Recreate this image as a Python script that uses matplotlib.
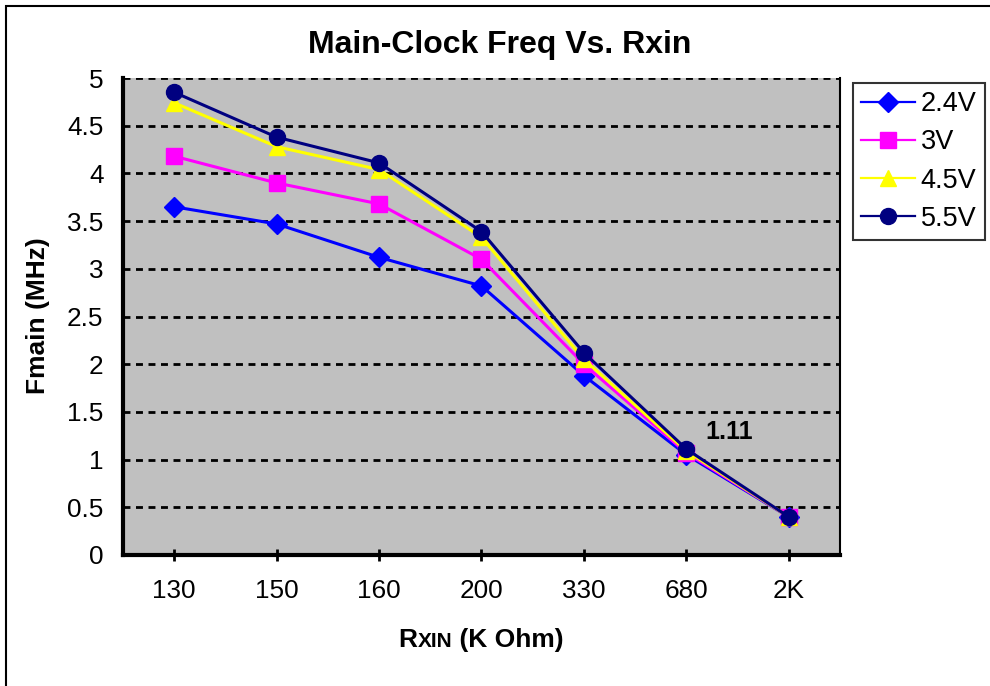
import matplotlib
matplotlib.use('Agg')
import matplotlib.pyplot as plt
from matplotlib.patches import Rectangle
from matplotlib.offsetbox import TextArea, HPacker, AnchoredOffsetbox

plt.rcParams['font.family'] = ['Liberation Sans', 'DejaVu Sans']

categories = ['130', '150', '160', '200', '330', '680', '2K']
v24 = [3.65, 3.47, 3.12, 2.82, 1.88, 1.05, 0.40]
v30 = [4.18, 3.90, 3.68, 3.10, 2.00, 1.07, 0.40]
v45 = [4.74, 4.28, 4.04, 3.33, 2.05, 1.09, 0.40]
v55 = [4.85, 4.38, 4.11, 3.39, 2.12, 1.11, 0.40]
series = [('2.4V', v24, '#0000FF', 'D', 10),
          ('3V', v30, '#FF00FF', 's', 11),
          ('4.5V', v45, '#FFFF00', '^', 11),
          ('5.5V', v55, '#000080', 'o', 11.5)]
yticks = [0, 0.5, 1, 1.5, 2, 2.5, 3, 3.5, 4, 4.5, 5]

fig = plt.figure(figsize=(9.9, 6.86), dpi=100)
ax = fig.add_axes([123 / 990, 1 - 555 / 686, 717 / 990, 477 / 686])
ax.set_facecolor('#C0C0C0')

x = list(range(len(categories)))
for name, vals, col, mk, ms in series:
    ax.plot(x, vals, color=col, lw=2.2, marker=mk, markersize=ms,
            markerfacecolor=col, markeredgecolor=col, label=name, zorder=3)

for yv in yticks[1:]:
    ax.axhline(yv, color='black', lw=2, linestyle=(0, (2.5, 2)), zorder=1)

ax.set_xlim(-0.5, len(categories) - 0.5)
ax.set_ylim(0, 5)
ax.set_xticks(x)
ax.set_xticklabels(categories)
ax.set_yticks(yticks)
ax.set_yticklabels(['%g' % t for t in yticks])
ax.tick_params(axis='x', direction='inout', length=9, width=2, labelsize=18.8, pad=13)
ax.tick_params(axis='y', length=0, labelsize=18.8, pad=14)

ax.spines['top'].set_visible(False)
ax.spines['left'].set_linewidth(3)
ax.spines['bottom'].set_linewidth(3)
ax.spines['right'].set_linewidth(1.5)

# data label on the 680 point of 5.5V
ax.annotate('%.2f' % v55[5], xy=(5, v55[5]), xytext=(31, 12),
            textcoords='offset points', ha='center', va='center',
            fontsize=18, fontweight='bold')

fig.text(500 / 990, 1 - 45 / 686, 'Main-Clock Freq Vs. Rxin', ha='center',
         va='center', fontsize=23, fontweight='bold')
fig.text(38 / 990, 1 - 316 / 686, 'Fmain (MHz)', rotation=90, ha='center',
         va='center', fontsize=19, fontweight='bold')

parts = [TextArea('R', textprops=dict(fontsize=19, fontweight='bold')),
         TextArea('XIN', textprops=dict(fontsize=15, fontweight='bold')),
         TextArea(' (K Ohm)', textprops=dict(fontsize=19, fontweight='bold'))]
box = HPacker(children=parts, align='baseline', pad=0, sep=0)
anch = AnchoredOffsetbox(loc='center', child=box, pad=0, borderpad=0,
                         frameon=False, bbox_to_anchor=(481 / 990, 1 - 640 / 686),
                         bbox_transform=fig.transFigure)
fig.add_artist(anch)

leg = fig.legend(loc='upper left', bbox_to_anchor=(853 / 990, 1 - 83 / 686),
                 borderaxespad=0, fontsize=19.5, fancybox=False, frameon=True,
                 handlelength=2.0, handletextpad=0.2, labelspacing=0.45,
                 borderpad=0.3)
leg.get_frame().set_edgecolor('black')
leg.get_frame().set_linewidth(1.5)
for ln in leg.get_lines():
    ln.set_linewidth(1.6)

fig.patches.append(Rectangle((6 / 990, -0.5), 2.0, 0.5 + 1 - 6 / 686,
                             transform=fig.transFigure, fill=False,
                             edgecolor='black', lw=1.5, figure=fig))

fig.savefig('out.png', dpi=100)
